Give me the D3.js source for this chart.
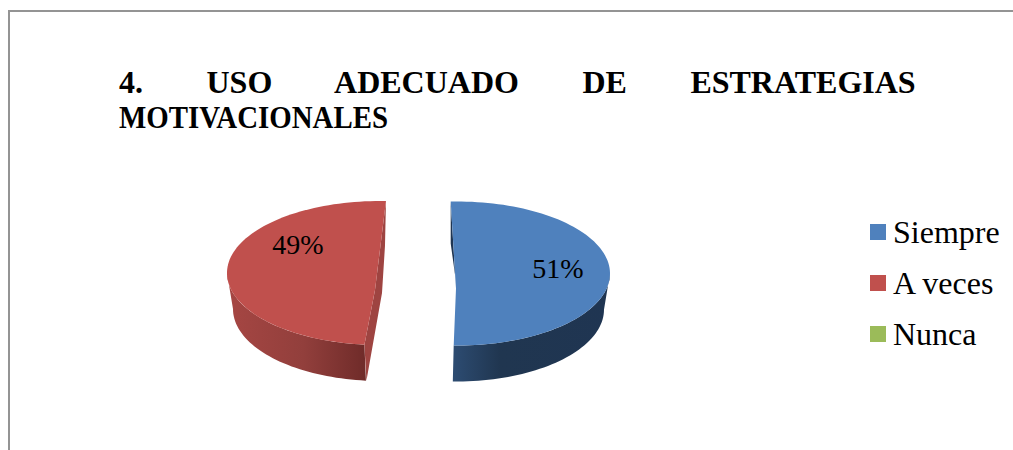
<!doctype html>
<html>
  <head>
    <meta charset="utf-8">
    <script src="https://d3js.org/d3.v7.min.js"></script>
    <style>
    html, body { margin: 0; padding: 0; background: #fff; }
    svg { display: block; }
    text { font-family: "Liberation Serif", serif; fill: #000; }
    </style>
  </head>
  <body>
    <svg width="1013" height="450"></svg>
    <script>
      var categories = ["Siempre", "A veces", "Nunca"];
      var values = [51, 49, 0];
      var colors = ["#4F81BD", "#C0504D", "#9BBB59"];
      var titleLines = ["4. USO ADECUADO DE ESTRATEGIAS", "MOTIVACIONALES"];

      var svg = d3.select("svg");
      var rad = Math.PI / 180;

      // frame, only top and left show in the picture
      svg.append("path")
        .attr("d", "M9 450V11H1013")
        .attr("fill", "none")
        .attr("stroke", "#949494")
        .attr("stroke-width", 2);

      // first line is justified, second one squeezed like in the source document
      svg.selectAll("text.title")
        .data(titleLines)
        .enter()
        .append("text")
          .attr("class", "title")
          .attr("x", 119)
          .attr("y", (d, i) => 93 + i * 35)
          .attr("font-size", 32)
          .attr("font-weight", "bold")
          .attr("word-spacing", (d, i) => i == 0 ? 55.5 : 0)
          .attr("textLength", (d, i) => i == 1 ? 269 : null)
          .attr("lengthAdjust", (d, i) => i == 1 ? "spacingAndGlyphs" : null)
          .text(d => d);

      // 3d look of the pie
      var rx = 153, ry = 72, depth = 36, bottomRx = 148;
      var sliceLayout = [
        {cx: 457, cy: 273.5, turn: 0, apex: [-1, 15], label: [101, 4], foot: -1},
        {cx: 380, cy: 273, turn: 4.6, apex: [-5, 17], label: [-82, -19], foot: 1},
        {cx: 420, cy: 273, turn: 0, apex: [0, 15], label: [0, 0], foot: 0}
      ];

      var color = d3.scaleOrdinal().domain(categories).range(colors);

      var pie = d3.pie()
        .sort(null)
        .startAngle(-2.36 * rad)
        .endAngle((360 - 2.36) * rad);

      var arcs = pie(values);

      var defs = svg.append("defs");
      function wallGradient(id, stops) {
        var g = defs.append("linearGradient").attr("id", id);
        stops.forEach(s => g.append("stop").attr("offset", s[0]).attr("stop-color", s[1]));
      }
      wallGradient("wall0", [[0, "#2D4C72"], [0.3, "#203650"], [1, "#1F3552"]]);
      wallGradient("wall1", [[0, "#A64643"], [0.55, "#923F3C"], [1, "#6F2B29"]]);

      var line = d3.line();

      function rim(cx, cy, a, b, radius) {
        var n = Math.max(2, Math.ceil(Math.abs(b - a) / (2 * rad)));
        return d3.range(n + 1).map(i => {
          var t = a + (b - a) * i / n;
          return [cx + radius * Math.sin(t), cy - ry * Math.cos(t)];
        });
      }

      arcs.forEach((d, i) => {
        if (d.value == 0) return;
        var s = sliceLayout[i];
        var a0 = d.startAngle + s.turn * rad;
        var a1 = d.endAngle + s.turn * rad;
        var apex = [s.cx + s.apex[0], s.cy + s.apex[1]];
        var face = rim(s.cx, s.cy, a0, a1, rx);

        // outer wall, only the part that faces the viewer
        var w0 = Math.max(a0, 90 * rad), w1 = Math.min(a1, 270 * rad);
        var wall = rim(s.cx, s.cy, w0, w1, rx)
          .concat(rim(s.cx + s.foot, s.cy + depth, w1, w0, bottomRx));
        svg.append("path")
          .attr("d", line(wall) + "Z")
          .attr("fill", "url(#wall" + i + ")");

        // cut wall between rim and centre
        var cut;
        if (i == 0) {
          cut = [face[0], [face[0][0], face[0][1] + 42], [apex[0] - 1, apex[1] - 14], apex];
          svg.append("path").attr("d", line(cut) + "Z").attr("fill", "#1F3552");
        } else {
          var last = face[0], top = face[face.length - 1];
          cut = [top, [top[0] - 1, top[1] + 45], [apex[0] + 7, apex[1] + 3],
                 [last[0] + 2, last[1] + depth], last, apex];
          svg.append("path").attr("d", line(cut) + "Z").attr("fill", "#9E4441");
        }

        svg.append("path")
          .attr("d", line([apex].concat(face)) + "Z")
          .attr("fill", color(categories[i]));

        svg.append("text")
          .attr("x", s.cx + s.label[0])
          .attr("y", s.cy + s.label[1])
          .attr("text-anchor", "middle")
          .attr("font-size", 28)
          .text(d3.format(".0%")(d.value / d3.sum(values)));
      });

      // legend
      var legend = svg.selectAll("g.legend")
        .data(categories)
        .enter()
        .append("g")
          .attr("class", "legend")
          .attr("transform", (d, i) => `translate(870,${224 + i * 51})`);
      legend.append("rect")
        .attr("width", 16)
        .attr("height", 16)
        .attr("fill", d => color(d));
      legend.append("text")
        .attr("x", 23)
        .attr("y", 19)
        .attr("font-size", 32)
        .text(d => d);
    </script>
  </body>
</html>
